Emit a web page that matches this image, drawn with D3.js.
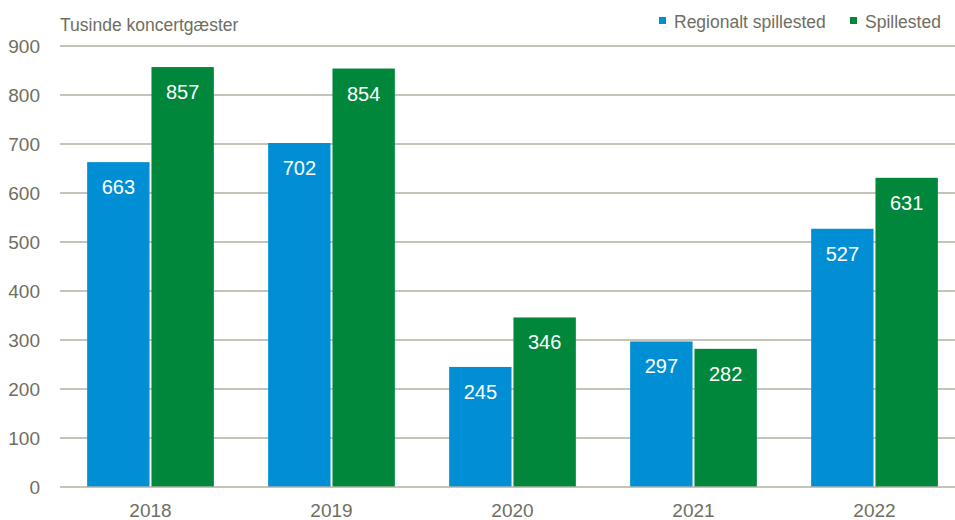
<!DOCTYPE html>
<html>
<head>
<meta charset="utf-8">
<style>
	body { margin: 0; background: #fff; }
	svg { position: absolute; top: 0; left: 0; }
	text { font-family: "Liberation Sans Narrow", "Arial Narrow", "Liberation Sans", sans-serif; }
	.tick text { fill: #6e6e62; font-size: 19px; }
	.grid line { stroke: #b0b0a2; stroke-width: 1.3px; }
</style>
<script src="https://cdnjs.cloudflare.com/ajax/libs/d3/7.8.5/d3.min.js"></script>
</head>
<body>
<svg width="955" height="520"></svg>
<script>
var years = ["2018", "2019", "2020", "2021", "2022"];
var series = ["Regionalt spillested", "Spillested"];
var regionalt = [663, 702, 245, 297, 527];
var spillested = [857, 854, 346, 282, 631];
var yTicks = [0, 100, 200, 300, 400, 500, 600, 700, 800, 900];
var colors = ["#008fd5", "#00873c"];

var svg = d3.select("svg"),
	width = +svg.attr("width"),
	height = +svg.attr("height");

var x = d3.scaleBand().domain(years).range([60, 965]).paddingInner(0.3).paddingOuter(0.15);
var xs = d3.scaleBand().domain(series).range([0, x.bandwidth()]).paddingInner(0.03);
var y = d3.scaleLinear().domain([0, 900]).range([487, 46]);

// gridlines
svg.append("g").attr("class", "grid")
	.selectAll("line").data(yTicks.slice(1)).enter().append("line")
	.attr("x1", 60).attr("x2", width)
	.attr("y1", d => y(d)).attr("y2", d => y(d));

// y axis labels
var yAxis = svg.append("g").attr("transform", "translate(40,0)")
	.call(d3.axisLeft(y).tickValues(yTicks).tickSize(0).tickPadding(0));
yAxis.select(".domain").remove();
yAxis.selectAll("text").attr("dy", "0.36em");

var rows = years.map((yr, i) => ({ year: yr, values: [regionalt[i], spillested[i]] }));

var group = svg.append("g").selectAll(".year").data(rows).enter()
	.append("g").attr("transform", d => "translate(" + x(d.year) + ",0)");

group.selectAll("rect").data(d => d.values.map((v, j) => ({ key: series[j], v: v, j: j }))).enter()
	.append("rect")
	.attr("x", d => xs(d.key))
	.attr("width", xs.bandwidth())
	.attr("y", d => y(d.v))
	.attr("height", d => y(0) - y(d.v))
	.attr("fill", d => colors[d.j]);

group.selectAll(".lbl").data(d => d.values.map((v, j) => ({ key: series[j], v: v }))).enter()
	.append("text").attr("class", "lbl")
	.attr("x", d => xs(d.key) + xs.bandwidth() / 2)
	.attr("y", d => y(d.v) + 32)
	.attr("text-anchor", "middle")
	.attr("fill", "#fff")
	.style("font-size", "20px")
	.text(d => d.v);

// x axis
svg.append("line").attr("x1", 60).attr("x2", width).attr("y1", y(0)).attr("y2", y(0))
	.attr("stroke", "#b0b0a2").attr("stroke-width", 1.5);
var xAxis = svg.append("g").attr("transform", "translate(0," + y(0) + ")")
	.call(d3.axisBottom(x).tickSize(0).tickPadding(17));
xAxis.select(".domain").remove();

// title
svg.append("text").attr("x", 60).attr("y", 31)
	.attr("fill", "#6e6e62").style("font-size", "17.5px")
	.text("Tusinde koncertgæster");

// legend
var legendX = [659, 850];
var legend = svg.append("g").selectAll("g").data(series).enter().append("g")
	.attr("transform", (d, i) => "translate(" + legendX[i] + ",0)");
legend.append("rect").attr("x", 0).attr("y", 17).attr("width", 7).attr("height", 7)
	.attr("fill", (d, i) => colors[i]);
legend.append("text").attr("x", 15).attr("y", 28)
	.attr("fill", "#6e6e62").style("font-size", "17.5px")
	.text(d => d);
</script>
</body>
</html>
